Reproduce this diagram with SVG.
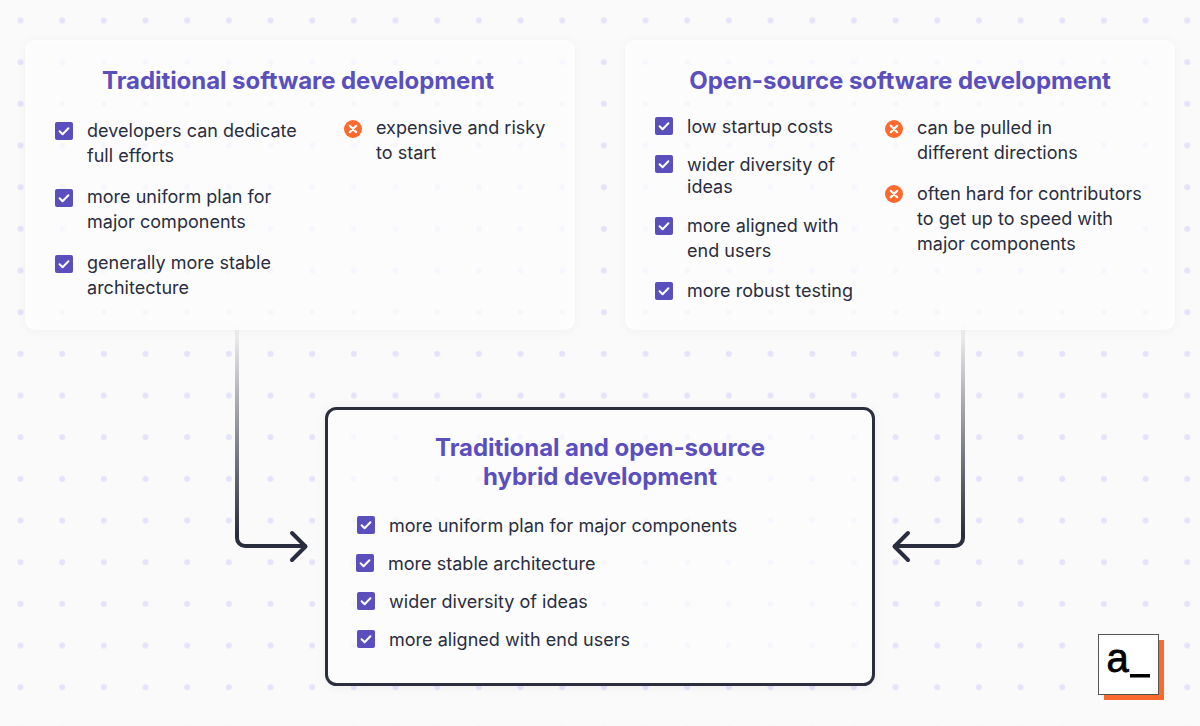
<svg xmlns="http://www.w3.org/2000/svg" width="1200" height="726" viewBox="0 0 1200 726">
<style>
.t{font-family:Inter,"Liberation Sans",sans-serif;font-size:18px;fill:#2a2d3e;letter-spacing:.02px}
.h{font-family:Inter,"Liberation Sans",sans-serif;font-size:24px;font-weight:700;fill:#5b4fbe;text-anchor:middle;letter-spacing:-.06px}
.c{fill:#ffffff;fill-opacity:.72;filter:url(#s)}
</style>
<defs>
<pattern id="dots" x="20.5" y="20.5" width="41.67" height="41.67" patternUnits="userSpaceOnUse"><circle cx="0" cy="0" r="3" fill="#e4e3fb"/><circle cx="41.67" cy="0" r="3" fill="#e4e3fb"/><circle cx="0" cy="41.67" r="3" fill="#e4e3fb"/><circle cx="41.67" cy="41.67" r="3" fill="#e4e3fb"/></pattern>
<filter id="s" x="-5%" y="-5%" width="110%" height="112%"><feDropShadow dx="0" dy="1" stdDeviation="4" flood-color="#2a2d3e" flood-opacity=".06"/></filter>
<linearGradient id="g" gradientUnits="userSpaceOnUse" x1="0" y1="320" x2="0" y2="546"><stop offset="0" stop-color="#2a2d3e" stop-opacity="0"/><stop offset=".95" stop-color="#2a2d3e"/></linearGradient>
<g id="ck"><rect width="18" height="18" rx="2" fill="#5b4fbe"/><path d="M4.6 9.3l3 3 5.8-6" fill="none" stroke="#fff" stroke-width="2" stroke-linecap="round" stroke-linejoin="round"/></g>
<g id="x"><circle cx="9" cy="9" r="9" fill="#fc6a2d"/><path d="M5.8 5.8l6.4 6.4M12.200 5.800l-6.400 6.400" stroke="#fff" stroke-width="2.200" stroke-linecap="round"/></g>
</defs>
<rect width="1200" height="726" fill="#fafafa"/>
<rect width="1200" height="726" fill="url(#dots)"/>
<g id="connectors" fill="none" stroke-width="4" stroke-linecap="round" stroke-linejoin="round">
<path d="M237 322V538a8 8 0 0 0 8 8H305" stroke="url(#g)"/>
<path d="M292 533l13.500 13.500L292 560" stroke="#2a2d3e"/>
<path d="M963 322V538a8 8 0 0 1-8 8H895" stroke="url(#g)"/>
<path d="M908 533l-13.500 13.500L908 560" stroke="#2a2d3e"/>
</g>
<g id="node-traditional">
<rect class="c" x="25" y="40" width="550" height="290" rx="10"/>
<text class="h" x="298" y="89">Traditional software development</text>
<use href="#ck" x="55" y="122"/><text class="t" x="87" y="137">developers can dedicate</text><text class="t" x="87" y="162">full efforts</text>
<use href="#ck" x="55" y="189"/><text class="t" x="87" y="203">more uniform plan for</text><text class="t" x="87" y="228">major components</text>
<use href="#ck" x="55" y="255"/><text class="t" x="87" y="269">generally more stable</text><text class="t" x="87" y="294">architecture</text>
<use href="#x" x="344" y="120"/><text class="t" x="376" y="134">expensive and risky</text><text class="t" x="376" y="159">to start</text>
</g>
<g id="node-open-source">
<rect class="c" x="625" y="40" width="550" height="290" rx="10"/>
<text class="h" x="900" y="89">Open-source software development</text>
<use href="#ck" x="655" y="117"/><text class="t" x="687" y="133">low startup costs</text>
<use href="#ck" x="655" y="155"/><text class="t" x="687" y="171">wider diversity of</text><text class="t" x="687" y="193">ideas</text>
<use href="#ck" x="655" y="217"/><text class="t" x="687" y="232">more aligned with</text><text class="t" x="687" y="257">end users</text>
<use href="#ck" x="655" y="282"/><text class="t" x="687" y="297">more robust testing</text>
<use href="#x" x="885" y="120"/><text class="t" x="917" y="134">can be pulled in</text><text class="t" x="917" y="159">different directions</text>
<use href="#x" x="885" y="185"/><text class="t" x="917" y="200">often hard for contributors</text><text class="t" x="917" y="225">to get up to speed with</text><text class="t" x="917" y="250">major components</text>
</g>
<g id="node-hybrid">
<rect x="326.500" y="408.500" width="547" height="276" rx="10" fill="#fff" fill-opacity=".72" stroke="#2a2d3e" stroke-width="3" filter="url(#s)"/>
<text class="h" x="600" y="456">Traditional and open-source</text>
<text class="h" x="600" y="485">hybrid development</text>
<use href="#ck" x="357" y="516"/><text class="t" x="389" y="532">more uniform plan for major components</text>
<use href="#ck" x="356" y="554"/><text class="t" x="388" y="570">more stable architecture</text>
<use href="#ck" x="357" y="592"/><text class="t" x="389" y="608">wider diversity of ideas</text>
<use href="#ck" x="357" y="630"/><text class="t" x="389" y="646">more aligned with end users</text>
</g>
<g id="logo">
<rect x="1104" y="640" width="60" height="60" fill="#fc6a2d"/>
<rect x="1098.500" y="634.500" width="60" height="60" fill="#fff" stroke="#555" stroke-width="1"/>
<text x="1106.500" y="672" font-family="Liberation Sans,Arial,sans-serif" font-size="40" stroke="#000" stroke-width=".8" fill="#000">a</text>
<rect x="1130" y="674" width="20" height="3.500" fill="#000"/>
</g>
</svg>
